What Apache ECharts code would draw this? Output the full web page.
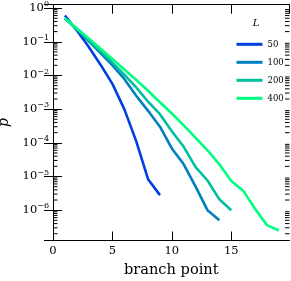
<!DOCTYPE html>
<html><head><meta charset="utf-8">
<script src="https://cdn.jsdelivr.net/npm/echarts@6/dist/echarts.min.js"></script>
<style>html,body{margin:0;padding:0;background:#fff}#c{width:291px;height:281px}</style>
</head><body><div id="c"></div>
<script>
const branchPoints = [1,2,3,4,5,6,7,8,9,10,11,12,13,14,15,16,17,18,19];
const sizeLabels = ['50','100','200','400'];
const p50  = [0.60, 0.219, 0.0708, 0.0209, 0.00562, 1.0e-3, 1.12e-4, 8.3e-6, 2.8e-6];
const p100 = [0.50, 0.234, 0.105, 0.0457, 0.020, 7.9e-3, 2.5e-3, 8.9e-4, 3.0e-4, 6.8e-5, 2.3e-5, 5.0e-6, 1.0e-6, 5.0e-7];
const p200 = [0.50, 0.24, 0.112, 0.0525, 0.024, 0.0105, 4.4e-3, 1.66e-3, 7.1e-4, 2.2e-4, 7.6e-5, 1.9e-5, 7.6e-6, 2.1e-6, 1.0e-6];
const p400 = [0.50, 0.25, 0.126, 0.062, 0.031, 0.0151, 7.4e-3, 3.5e-3, 1.6e-3, 7.4e-4, 3.3e-4, 1.4e-4, 6.0e-5, 2.3e-5, 7.4e-6, 3.8e-6, 1.1e-6, 3.6e-7, 2.5e-7];
const yMinorTicks = [];
for (let e = -7; e <= 0; e++) for (let m = 2; m <= 9; m++) { const v = m * Math.pow(10, e); if (v > 1.26e-7 && v < 1.25) yMinorTicks.push(v); }
const colors = ['#0040df', '#0080bf', '#00bf9f', '#00ff80'];
const allP = [p50, p100, p200, p400];

const FONT = 'DejaVu Serif';
const yMin = Math.pow(10, -6.9), yMax = Math.pow(10, 0.1);

function yLab(v) {
  const l = Math.log10(v), e = Math.round(l);
  if (Math.abs(l - e) > 1e-6) return '';
  return '{b|10}{s|' + (e < 0 ? '\u2212' + (-e) : e) + '}';
}
const rich = {
  b: {fontSize: 11.5, fontFamily: FONT, color: '#000', lineHeight: 16},
  s: {fontSize: 8, fontFamily: FONT, color: '#000', lineHeight: 9, verticalAlign: 'top'}
};
const axLine = {show: true, lineStyle: {color: '#000', width: 1}};
const tickStyle = {color: '#000', width: 1};

const chart = echarts.init(document.getElementById('c'), null, {renderer: 'canvas'});
chart.setOption({
  animation: false,
  backgroundColor: '#fff',
  grid: {left: 53, right: 1.5, top: 4.7, bottom: 40.5, containLabel: false, outerBoundsMode: 'none'},
  xAxis: [
    {type: 'value', min: 0, max: 19.9, interval: 5, position: 'bottom',
     axisLine: axLine,
     axisTick: {show: true, inside: true, length: 9, lineStyle: tickStyle},
     axisLabel: {show: true, margin: 5, fontFamily: FONT, fontSize: 11.5, color: '#000', showMaxLabel: false},
     splitLine: {show: false},
     name: 'branch point', nameLocation: 'middle', nameGap: 20,
     nameTextStyle: {fontFamily: FONT, fontSize: 14.6, color: '#000', verticalAlign: 'top'}},
    {type: 'value', min: 0, max: 19.9, interval: 5, position: 'top',
     axisLine: axLine,
     axisTick: {show: true, inside: true, length: 9, lineStyle: tickStyle},
     axisLabel: {show: false}, splitLine: {show: false}}
  ],
  yAxis: [
    {type: 'log', logBase: 10, min: yMin, max: yMax, splitNumber: 7, position: 'left',
     axisLine: axLine,
     axisTick: {show: true, inside: true, length: 9, lineStyle: tickStyle},
     axisLabel: {show: true, formatter: yLab, rich: rich, margin: 4},
     splitLine: {show: false},
     name: 'p', nameLocation: 'middle', nameGap: 34, nameRotate: 90,
     nameTextStyle: {fontFamily: FONT, fontStyle: 'italic', fontSize: 14, color: '#000'}},
    {type: 'log', logBase: 10, min: yMin, max: yMax, splitNumber: 7, position: 'right',
     axisLine: axLine,
     axisTick: {show: true, inside: true, length: 9, lineStyle: tickStyle},
     axisLabel: {show: false}, splitLine: {show: false}}
  ],
  legend: {
    orient: 'vertical', left: 231.5, top: 30.3, itemWidth: 26, itemHeight: 3, itemGap: 0,
    icon: 'rect', data: sizeLabels,
    textStyle: {fontFamily: FONT, fontSize: 8.5, color: '#000', lineHeight: 18}
  },
  graphic: [{type: 'text', x: 256, y: 23.3, style: {text: 'L', font: 'italic 10px "DejaVu Serif"', fill: '#000', textAlign: 'center', textVerticalAlign: 'middle'}}],
  series: allP.map((arr, i) => ({
    name: sizeLabels[i], type: 'line', xAxisIndex: 0, yAxisIndex: 0,
    data: arr.map((v, k) => [branchPoints[k], v]),
    showSymbol: false, symbol: 'none', smooth: false,
    lineStyle: {color: colors[i], width: 2.6}, itemStyle: {color: colors[i]},
    emphasis: {disabled: true}
  })).concat([{
    name: 'minorTicks', type: 'custom', xAxisIndex: 0, yAxisIndex: 0, silent: true, clip: false, z: 5,
    data: yMinorTicks.map(v => [v]),
    encode: {y: 0},
    renderItem: function (params, api) {
      const v = api.value(0);
      const cs = params.coordSys;
      const y = api.coord([0, v])[1];
      const L = cs.x, R = cs.x + cs.width;
      return {type: 'group', children: [
        {type: 'line', shape: {x1: L, y1: y, x2: L + 4.5, y2: y}, style: {stroke: '#000', lineWidth: 1}},
        {type: 'line', shape: {x1: R - 4.5, y1: y, x2: R, y2: y}, style: {stroke: '#000', lineWidth: 1}}
      ]};
    }
  }])
});
</script></body></html>
